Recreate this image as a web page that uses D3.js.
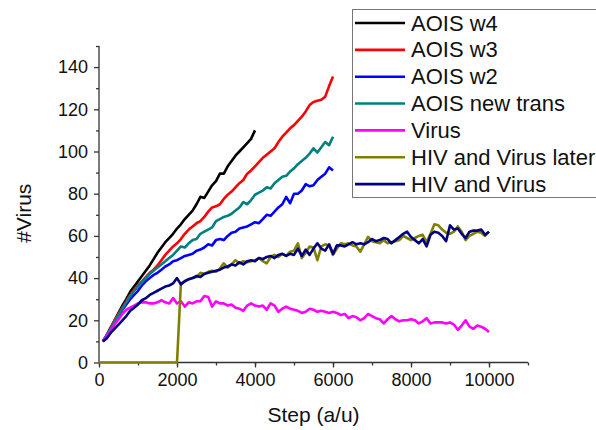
<!DOCTYPE html>
<html>
<head>
<meta charset="utf-8">
<script src="https://cdn.jsdelivr.net/npm/d3@7"></script>
<style>
  html, body { margin: 0; padding: 0; background: #fff; }
  svg { display: block; font-family: Arial, "Liberation Sans", sans-serif; }
</style>
</head>
<body>
<svg id="chart" width="596" height="430"></svg>
<script>
// Simulation output sampled every 100 steps, starting at step 100
// (the delayed HIV run starts at step 0).
const SAMPLE_EVERY = 100;

const aoisW4 = [10, 13, 16.5, 20, 23.5, 27, 30, 33.5, 36, 38.5, 41, 43.5, 46, 49, 52, 54.5, 57, 59, 61, 63.5,
  65.5, 68, 70, 72, 75, 78.5, 78, 81, 84, 86, 89.5, 89.5, 93, 95.5, 98, 100, 102, 104, 106, 110];

const aoisW3 = [10, 13, 16.5, 20, 23, 26, 29, 32, 34.5, 36.5, 38.5, 40.5, 42.5, 44, 46, 48.5, 51, 53, 55, 56.5,
  58.5, 61, 63, 64.5, 66, 67, 69, 71.5, 73.5, 74, 75, 77.5, 79.5, 81, 83, 85, 86.5, 89.5, 91, 93,
  95, 97, 98.5, 100, 101.5, 104.5, 107, 109, 111, 112.5, 114.5, 116.5, 119, 122, 123.5, 124, 124.5, 126, 131, 135.5];

const aoisW2 = [10, 13, 16, 19, 22, 25, 27.5, 30, 32, 34, 36.5, 38.5, 40, 41.5, 42.5, 44, 45.5, 46.5, 48, 48.5,
  49.5, 50.5, 51, 51.5, 53, 53.5, 54.5, 56, 55.5, 58, 58.5, 58, 60, 61.5, 62, 63.5, 64, 64.5, 65.5, 66.5,
  66, 68, 70, 69.5, 71.5, 73.5, 75, 78.5, 75.5, 80, 80, 81.5, 84.5, 83.5, 84, 86.5, 88, 89.5, 92.5, 91];

const aoisNewTrans = [10, 13, 16, 19.5, 22.5, 25.5, 28.5, 31.5, 34, 36, 38, 40, 42, 43.5, 45, 46.5, 48, 49.5, 51, 53,
  55, 54.5, 56.5, 58, 58.5, 61, 62, 63, 64, 67, 68, 69, 69.5, 70.5, 72, 73.5, 76, 75, 77, 79.5,
  80.5, 81.5, 83, 82.5, 85, 86.5, 88, 88.5, 90.5, 92, 94, 95.5, 97, 99, 101.5, 99.5, 102, 104.5, 103, 107];

const virusOnly = [10, 12.5, 15, 18, 20.5, 23, 25, 26, 27, 28, 28.5, 28.5, 28, 28, 28.5, 29.5, 28.5, 28, 30.5, 28,
  29, 26.5, 28.5, 28, 29, 29, 31.5, 31, 26.5, 29, 28, 28, 27, 27.5, 26, 25.5, 24.5, 27, 28, 27,
  26.5, 27, 25, 28, 27, 24, 25.5, 26.5, 25.5, 25, 24.5, 23.5, 24, 25.5, 25, 24, 24.5, 24, 23.5, 24,
  23.5, 22.5, 23, 21, 22, 21.5, 20, 21, 23, 22, 21, 20.5, 18.5, 20.5, 22, 20.5, 19.5, 20, 20, 20.5,
  20, 18.5, 19.5, 21, 18.5, 19, 19, 19, 18.5, 19, 18, 15.5, 17.5, 20, 17, 16, 17.5, 17, 16, 14.5];

// Starts at step 0; HIV is introduced at step 2000.
const hivVirusLater = [0, 0, 0, 0, 0, 0, 0, 0, 0, 0, 0, 0, 0, 0, 0, 0, 0, 0, 0, 0, 0,
  37.5, 38.5, 39.5, 40, 40.5, 42.5, 42, 43, 43.5, 43, 44.5, 47, 45, 46.5, 48.5, 47, 48, 47.5, 48, 48.5,
  49.5, 48, 47, 50, 51, 50, 51.5, 50.5, 52.5, 53, 56.5, 49.5, 52, 55, 54.5, 48.5, 55, 56, 55.5, 51,
  54, 56.5, 56, 56.5, 55.5, 55, 52.5, 56, 59.5, 57.5, 57, 56.5, 58, 56.5, 57, 57.5, 58, 60, 59, 58,
  59, 60, 60.5, 57, 61, 65.5, 65, 63, 61.5, 61, 62, 64.5, 62, 58, 60, 61, 62, 61.5, 60, 62];

const hivVirus = [10, 11.5, 14, 16, 18, 20, 22, 24.5, 26, 27.5, 29.5, 30.5, 32, 33, 34, 35, 36, 36.5, 37.5, 40,
  37, 38.5, 39.5, 40, 41, 40.5, 42, 42.5, 43, 43.5, 44, 45, 45.5, 46.5, 46, 47.5, 46.5, 48, 48.5, 48,
  49.5, 49, 50, 50.5, 49.5, 51, 51.5, 50.5, 51.5, 51, 54, 50.5, 53.5, 51, 54, 56.5, 54, 53, 56, 51.5,
  55.5, 55.5, 55, 56, 57, 56, 56.5, 56, 57, 58.5, 57.5, 58, 59, 58.5, 56.5, 58, 59.5, 61, 62, 59.5,
  58, 56.5, 58.5, 55, 60.5, 62, 61.5, 60, 57.5, 65, 63, 63.5, 61, 59, 62, 62.5, 62.5, 63, 60.5, 62];

const seriesNames = ["AOIS w4", "AOIS w3", "AOIS w2", "AOIS new trans", "Virus", "HIV and Virus later", "HIV and Virus"];
const seriesColors = ["#000000", "#ff0000", "#0000ff", "#008080", "#ff00ff", "#808000", "#000080"];
const seriesValues = [aoisW4, aoisW3, aoisW2, aoisNewTrans, virusOnly, hivVirusLater, hivVirus];
const seriesFirstStep = [100, 100, 100, 100, 100, 0, 100];

const xTicks = [0, 2000, 4000, 6000, 8000, 10000];
const yTicks = [0, 20, 40, 60, 80, 100, 120, 140];
const xLabel = "Step (a/u)";
const yLabel = "#Virus";

const svg = d3.select("#chart");

const x = d3.scaleLinear().domain([0, 11000]).range([99, 528]);
const y = d3.scaleLinear().domain([0, 150]).range([362.5, 46]);

// Axes: major ticks with labels, unlabeled minor ticks between them
const axisColor = "#333";
const gx = svg.append("g").attr("transform", `translate(0,${y(0)})`);
gx.call(d3.axisBottom(x).tickValues(d3.range(0, 11001, 1000)).tickSize(3).tickFormat(""));
gx.call(g => g.select(".domain").remove());
const gxMajor = svg.append("g").attr("transform", `translate(0,${y(0)})`)
  .call(d3.axisBottom(x).tickValues(xTicks).tickSize(5).tickPadding(6).tickFormat(d3.format("d")));
gxMajor.select(".domain").attr("d", `M${x(0)},0H${x(11000)}`);

const gy = svg.append("g").attr("transform", `translate(${x(0)},0)`);
gy.call(d3.axisLeft(y).tickValues(d3.range(10, 151, 20)).tickSize(3).tickFormat(""));
gy.call(g => g.select(".domain").remove());
const gyMajor = svg.append("g").attr("transform", `translate(${x(0)},0)`)
  .call(d3.axisLeft(y).tickValues(yTicks).tickSize(5).tickPadding(6).tickFormat(d3.format("d")));
gyMajor.select(".domain").attr("d", `M0,${y(0)}V${y(150)}`);

svg.selectAll(".domain, .tick line").attr("stroke", axisColor).attr("stroke-width", 1.3);
svg.selectAll(".tick text").attr("fill", "#111").style("font-size", "18px")
  .style("font-family", "Arial, 'Liberation Sans', sans-serif");

// Axis titles
svg.append("text")
  .attr("x", (x(0) + x(11000)) / 2).attr("y", 422)
  .attr("text-anchor", "middle").attr("fill", "#111")
  .style("font-size", "21px").text(xLabel);
svg.append("text")
  .attr("transform", `translate(31,${(y(0) + y(150)) / 2 + 9}) rotate(-90)`)
  .attr("text-anchor", "middle").attr("fill", "#111")
  .style("font-size", "21px").text(yLabel);

// Series lines
const line = d3.line().x(d => x(d[0])).y(d => y(d[1]));
seriesValues.forEach((vals, i) => {
  const pts = vals.map((v, k) => [seriesFirstStep[i] + k * SAMPLE_EVERY, v]);
  svg.append("path")
    .attr("d", line(pts))
    .attr("fill", "none")
    .attr("stroke", seriesColors[i])
    .attr("stroke-width", 2.6)
    .attr("stroke-linejoin", "round");
});

// Legend
const legend = svg.append("g");
legend.append("rect")
  .attr("x", 352.5).attr("y", 9.5).attr("width", 260).attr("height", 188)
  .attr("fill", "#fff").attr("stroke", "#777").attr("stroke-width", 1);
seriesNames.forEach((name, i) => {
  const cy = 23 + i * 26.85;
  legend.append("line")
    .attr("x1", 355).attr("x2", 405).attr("y1", cy).attr("y2", cy)
    .attr("stroke", seriesColors[i]).attr("stroke-width", 2.6);
  legend.append("text")
    .attr("x", 411).attr("y", cy + 7.5).attr("fill", "#111")
    .style("font-size", "22px").text(name);
});
</script>
</body>
</html>
